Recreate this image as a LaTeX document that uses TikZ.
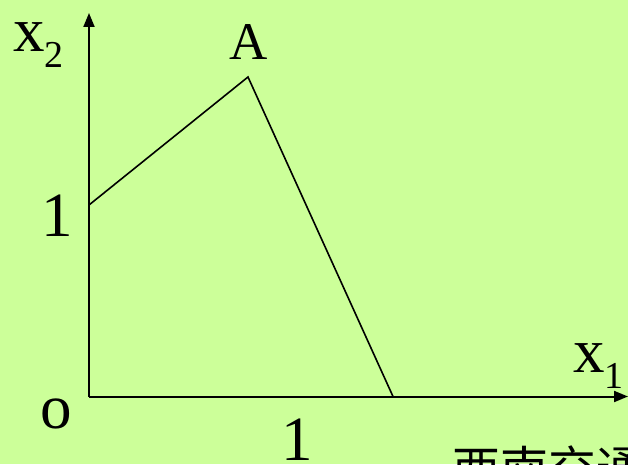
\documentclass[tikz,border=0pt]{standalone}
\usepackage{fontspec}
\setmainfont{Liberation Serif}
\newfontfamily\cjk{Noto Sans CJK SC}
\usepackage{xcolor}
\usetikzlibrary{arrows.meta,positioning}
\definecolor{bgreen}{RGB}{204,255,153}
\tikzset{
  axis/.style={-{Triangle[length=14pt,width=11pt]}, draw=black, line width=2pt},
  bound/.style={draw=black, line width=1.6pt, line join=miter},
  lbl/.style={inner sep=0pt, anchor=base, font=\fontsize{63}{63}\selectfont},
}
\newcommand{\sublbl}[2]{#1\raisebox{-16pt}{\fontsize{38}{38}\selectfont #2}}

\begin{document}
\begin{tikzpicture}[x=1pt, y=1pt]
\fill[bgreen] (0,0) rectangle (628,464);
\useasboundingbox (0,0) rectangle (628,464);
\clip (0,0) rectangle (628,464);

% points of the region
\coordinate (O)  at (89,67.5);
\coordinate (Ytop) at (89,451);
\coordinate (Xend) at (628,67.5);
\coordinate (P1) at (89,259);
\coordinate (A)  at (248,387);
\coordinate (P2) at (393,67.5);

% axes
\draw[axis] (O) -- (Ytop);
\draw[axis] (O) -- (Xend);

% feasible boundary
\draw[bound] (P1) -- (A) -- (P2);

% labels
\node[lbl, anchor=base west] (lx2) at (13,412) {\sublbl{x}{2}};
\node[lbl, font=\fontsize{53}{53}\selectfont] (lA) at (249,404) {A};
\node[lbl] (lone) at (57,228) {1};
\node[lbl] (lo) at (56,36) {o};
\node[lbl] (lonex) at (297,4) {1};
\node[lbl, anchor=base west] (lx1) at (573,92) {\sublbl{x}{1}};
\node[inner sep=0pt, anchor=base west, font=\cjk\fontsize{48}{48}\selectfont] (lsw) at (452,-22) {西南交通};
\end{tikzpicture}
\end{document}
